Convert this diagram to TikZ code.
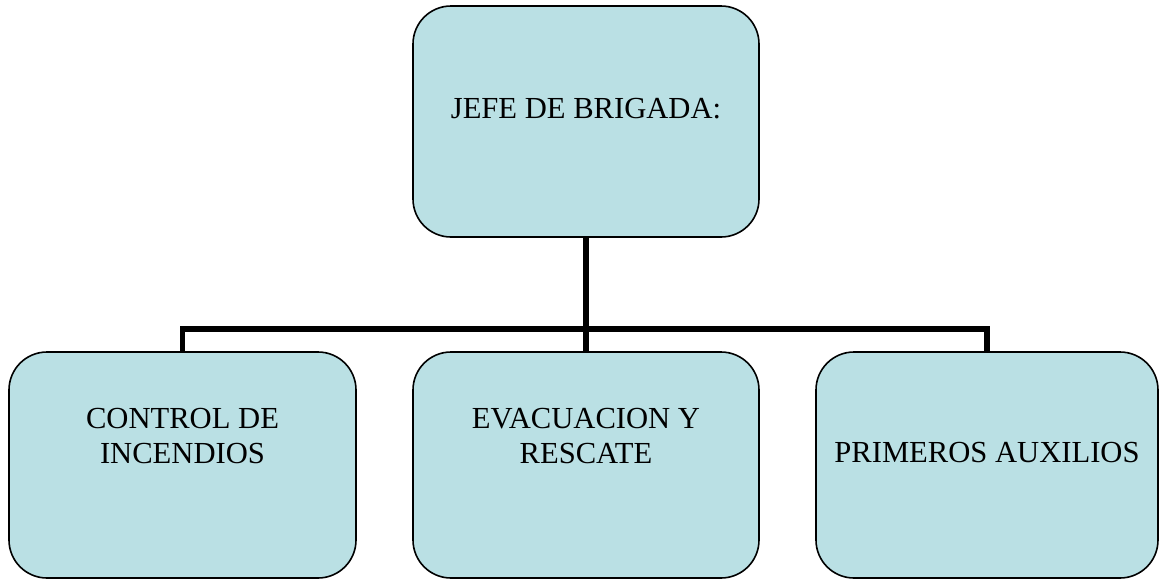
\documentclass[tikz,border=0pt]{standalone}
\usepackage{fontspec}
\setmainfont{Liberation Serif}
\definecolor{boxfill}{RGB}{186,224,228}
\begin{document}
\begin{tikzpicture}[x=1pt,y=-1pt,
  box/.style={draw=black, line width=1.6pt, fill=boxfill, rounded corners=38pt, inner sep=0pt},
  txt/.style={font=\fontsize{30.6}{35}\selectfont, align=center, inner sep=0pt},
  conn/.style={draw=black, line width=5.5pt, line join=miter}]
\useasboundingbox (0,0) rectangle (1160,581);
\node[box, minimum width=346pt, minimum height=231pt] (top) at (586,121.5) {};
\node[box, minimum width=347pt, minimum height=226pt] (l) at (182.5,465) {};
\node[box, minimum width=346pt, minimum height=226pt] (m) at (586,465) {};
\node[box, minimum width=342pt, minimum height=226pt] (r) at (987,465) {};
\node[txt] (ttop) at (586,109) {JEFE DE BRIGADA:};
\node[txt] (tl) at (182.5,436) {CONTROL DE\\INCENDIOS};
\node[txt] (tm) at (586,436) {EVACUACION Y\\RESCATE};
\node[txt] (tr) at (987,453) {PRIMEROS AUXILIOS};
\coordinate (j) at (586,329);
\draw[conn] (top.south) -- (j);
\draw[conn] (l.north) |- (j) -| (r.north);
\draw[conn] (j) -- (m.north);
\end{tikzpicture}
\end{document}
